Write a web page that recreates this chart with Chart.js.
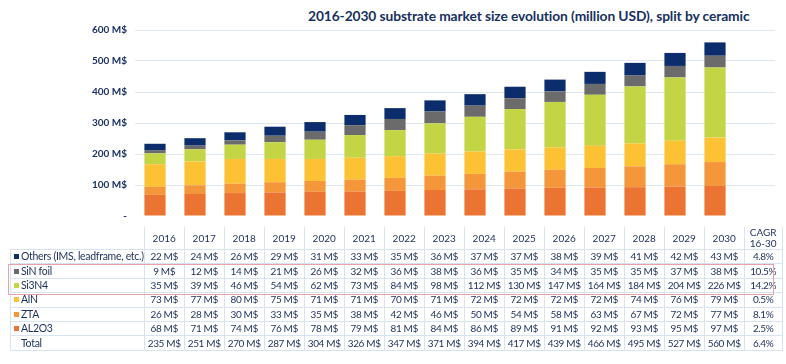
<!DOCTYPE html>
<html>
<head>
<meta charset="utf-8">
<script src="https://cdn.jsdelivr.net/npm/chart.js@4/dist/chart.umd.min.js"></script>
<style>
  html, body { margin: 0; padding: 0; background: #ffffff; }
  body { width: 786px; height: 364px; position: relative; overflow: hidden; font-family: "Lato", "Open Sans", sans-serif; color: #1b2f5b; }
  #title { position: absolute; left: 308px; top: 7px; font-size: 13.8px; font-weight: bold; color: #17305f; white-space: nowrap; letter-spacing: -0.1px; }
  #chartBox { position: absolute; left: 0; top: 0; width: 786px; height: 230px; }
  #tbl { position: absolute; left: 10px; top: 227px; border-collapse: collapse; table-layout: fixed; font-size: 10px; letter-spacing: -0.35px; color: #1b2f5b; }
  #tbl td { border: 1px solid #d6e3f1; padding: 0; height: 13.4px; line-height: 13px; text-align: center; white-space: nowrap; overflow: hidden; }
  #tbl tr.hdr td { height: 21.5px; line-height: 11px; border-top: none; letter-spacing: 0; }
  #tbl tr.hdr td.blank { border: none; border-right: 1px solid #d6e3f1; }
  #tbl td.lab { text-align: left; padding-left: 3px; font-size: 10.5px; letter-spacing: -0.3px; }
  .sq { display: inline-block; width: 5px; height: 5px; margin-right: 2px; vertical-align: 1px; }
  #redbox { position: absolute; left: 8px; top: 264px; width: 764px; height: 29px; border: 1px solid #e7a1a8; pointer-events: none; }
  .ov { border-top: 1px solid #3a4f78; }
</style>
</head>
<body>
<div id="title">2016-2030 substrate market size evolution (million USD), split by ceramic</div>
<div id="chartBox"><canvas id="c" width="786" height="230"></canvas></div>
<table id="tbl"></table>
<div id="redbox"></div>
<script>
const years = ['2016','2017','2018','2019','2020','2021','2022','2023','2024','2025','2026','2027','2028','2029','2030'];
const others = [22,24,26,29,31,33,35,36,37,37,38,39,41,42,43];
const sinFoil = [9,12,14,21,26,32,36,38,36,35,34,35,35,37,38];
const si3n4 = [35,39,46,54,62,73,84,98,112,130,147,164,184,204,226];
const aln = [73,77,80,75,71,71,70,71,72,72,72,72,74,76,79];
const zta = [26,28,30,33,35,38,42,46,50,54,58,63,67,72,77];
const al2o3 = [68,71,74,76,78,79,81,84,86,89,91,92,93,95,97];
const totals = [235,251,270,287,304,326,347,371,394,417,439,466,495,527,560];
const cagr = ['4.8%','10.5%','14.2%','0.5%','8.1%','2.5%','6.4%'];
const yTickLabels = {0:'-',100:'100 M$',200:'200 M$',300:'300 M$',400:'400 M$',500:'500 M$',600:'600 M$'};

const series = [
  {name:'Others (IMS, leadframe, etc.)', data: others, color:'#0c2d6b'},
  {name:'SiN foil', data: sinFoil, color:'#6b6b6b'},
  {name:'Si3N4', data: si3n4, color:'#c3d545'},
  {name:'AlN', data: aln, color:'#fdc233'},
  {name:'ZTA', data: zta, color:'#f4973a'},
  {name:'AL2O3', data: al2o3, color:'#ec7433'}
];

// chart categories: years plus an empty slot aligned with the CAGR column
const labels = years.concat(['']);
const datasets = series.slice().reverse().map(s => ({
  label: s.name,
  data: s.data.concat([null]),
  backgroundColor: s.color,
  borderWidth: 0,
  categoryPercentage: 1,
  barPercentage: 0.53
}));

new Chart(document.getElementById('c'), {
  type: 'bar',
  data: { labels, datasets },
  options: {
    responsive: false,
    animation: false,
    devicePixelRatio: 1,
    layout: { padding: { left: 0, right: 11, top: 30, bottom: 4 } },
    plugins: { legend: { display: false }, tooltip: { enabled: false }, title: { display: false } },
    scales: {
      x: { stacked: true, display: false, grid: { display: false } },
      y: {
        stacked: true, min: 0, max: 600,
        border: { display: false },
        grid: { color: ctx => ctx.tick && ctx.tick.value === 0 ? 'rgba(0,0,0,0)' : '#dce7f3', drawTicks: false, lineWidth: 1 },
        ticks: { stepSize: 100, padding: 8, color: '#1b3263', font: { family: 'Lato', size: 10, weight: 'bold' },
                 callback: v => yTickLabels[v] },
        afterFit: s => { s.width = 135; }
      }
    }
  }
});

// data table
const tbl = document.getElementById('tbl');
let html = '<colgroup><col style="width:125px">' + labels.map((l,i)=> '<col style="width:' + (i===15?38:40) + 'px">').join('') + '</colgroup>';
html += '<tr class="hdr"><td class="blank"></td>' + years.map(y=>'<td>'+y+'</td>').join('') + '<td><span class="ov">CAGR</span><br>16-30</td></tr>';
series.forEach((s, i) => {
  html += '<tr><td class="lab"><span class="sq" style="background:'+s.color+'"></span>' + s.name + '</td>' +
    s.data.map(v => '<td>' + v + ' M$</td>').join('') + '<td>' + cagr[i] + '</td></tr>';
});
html += '<tr><td class="lab" style="padding-left:10px">Total</td>' + totals.map(v => '<td>' + v + ' M$</td>').join('') + '<td>' + cagr[6] + '</td></tr>';
tbl.innerHTML = html;
</script>
</body>
</html>
